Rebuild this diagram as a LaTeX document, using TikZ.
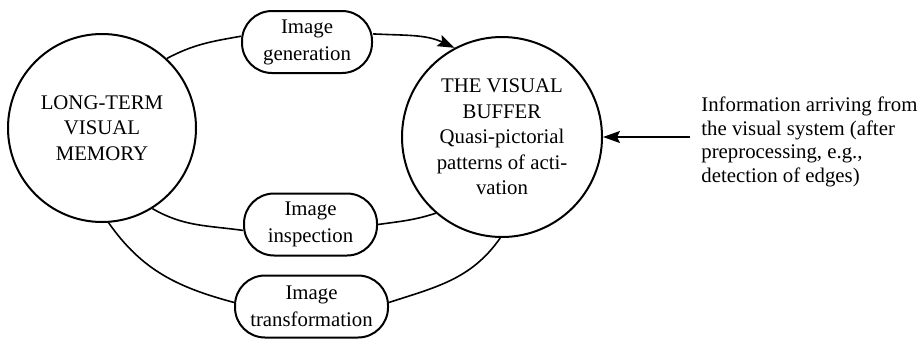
\documentclass[tikz,border=0pt]{standalone}
\usepackage{fontspec}
\setmainfont{Liberation Serif}
\usetikzlibrary{arrows.meta}
\begin{document}
\begin{tikzpicture}[x=0.5pt,y=0.5pt,
  mem/.style={draw, circle, line width=1pt, inner sep=0pt, align=center, font=\fontsize{10.4}{12.75}\selectfont},
  proc/.style={draw, rectangle, rounded corners=15pt, line width=1pt, inner sep=0pt, minimum height=31pt, align=center, font=\fontsize{10.4}{13.5}\selectfont},
  link/.style={line width=0.8pt},
  tip/.style={-{Stealth[length=8.5pt,width=6pt,inset=1.5pt]}}]
\useasboundingbox (0,0) rectangle (919,-338);
\node[mem, minimum size=94pt] (L) at (102,-128) {LONG-TERM\\VISUAL\\MEMORY};
\node[mem, minimum size=100pt] (R) at (502,-137) {THE VISUAL\\BUFFER\\Quasi-pictorial\\patterns of acti-\\vation};
\node[proc, minimum width=65pt] (G) at (307,-42) {Image\\generation};
\node[proc, minimum width=66.5pt] (I) at (310.5,-224.5) {Image\\inspection};
\node[proc, minimum width=76.5pt] (T) at (311.5,-306.5) {Image\\transformation};
\node[align=left, anchor=west, inner xsep=5.5pt, inner ysep=0pt, font=\fontsize{10.4}{11.7}\selectfont] (info) at (690,-142) {Information arriving from\\the visual system (after\\preprocessing, e.g.,\\detection of edges)};
\draw[link] (L.47) to[out=28,in=190] (G.175);
\draw[link,tip] (G.7) to[out=-3,in=155] (R.118);
\draw[link] (L.-58) to[out=-30,in=172] (I.185);
\draw[link] (I.east) to[out=8,in=198] (R.229);
\draw[link] (L.-86) to[out=-55,in=165] (T.177);
\draw[link] (T.3) to[out=18,in=235] (R.269);
\draw[link,tip] (info.west |- R.east) -- (R.east);
\end{tikzpicture}
\end{document}
